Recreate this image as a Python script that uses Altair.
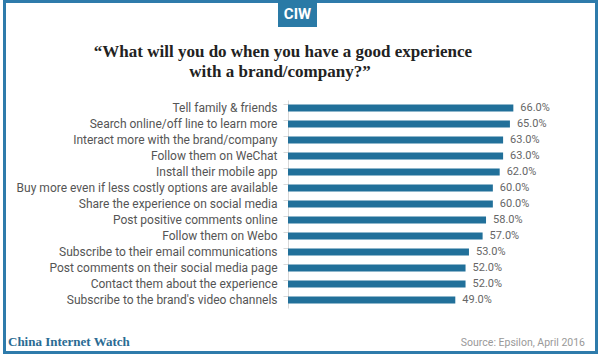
import altair as alt
import pandas as pd

categories = [
    "Tell family & friends",
    "Search online/off line to learn more",
    "Interact more with the brand/company",
    "Follow them on WeChat",
    "Install their mobile app",
    "Buy more even if less costly options are available",
    "Share the experience on social media",
    "Post positive comments online",
    "Follow them on Webo",
    "Subscribe to their email communications",
    "Post comments on their social media page",
    "Contact them about the experience",
    "Subscribe to the brand's video channels",
]
values = [66.0, 65.0, 63.0, 63.0, 62.0, 60.0, 60.0, 58.0, 57.0, 53.0, 52.0, 52.0, 49.0]
title_lines = ["\u201cWhat will you do when you have a good experience",
               "with a brand/company?\u201d"]
brand = "China Internet Watch"
source = "Source: Epsilon, April 2016"
logo = "CIW"

df = pd.DataFrame({"cat": categories, "val": values})
df["label"] = [f"{v:.1f}%" for v in values]

BLUE = "#21709a"
FRAME = "#2e7bab"
LABEL_FONT = "Roboto"

W, H = 239, 208

y_enc = alt.Y("cat:N", sort=categories, title=None,
              scale=alt.Scale(paddingInner=0.55, paddingOuter=0.275),
              axis=alt.Axis(labelFont=LABEL_FONT, labelFontSize=12, labelColor="#555555",
                            labelPadding=6, tickColor="#d9d9d9", tickSize=5,
                            domainColor="#d9d9d9", bandPosition=0, labelLimit=300))
x_enc = alt.X("val:Q", scale=alt.Scale(domain=[0, 70]), axis=None)

base = alt.Chart(df)
bars = base.mark_bar(color=BLUE, size=7).encode(x=x_enc, y=y_enc)
labels = base.mark_text(align="left", dx=7, font=LABEL_FONT, fontSize=11,
                        color="#666666").encode(x=x_enc, y=alt.Y("cat:N", sort=categories), text="label:N")

one = alt.Data(values=[{}])
frame = alt.Chart(one).mark_rect(filled=False, stroke=FRAME, strokeWidth=3).encode(
    x=alt.value(-283.5), x2=alt.value(308.5), y=alt.value(-98.5), y2=alt.value(252.5))
logo_box = alt.Chart(one).mark_rect(color="#2a7aa6").encode(
    x=alt.value(-10), x2=alt.value(29), y=alt.value(-100), y2=alt.value(-73))
logo_text = alt.Chart(one).mark_text(font="Roboto", fontWeight="bold", fontSize=15,
                                     color="white", align="center", baseline="middle").encode(
    x=alt.value(9.5), y=alt.value(-86), text=alt.value(logo))
t1 = alt.Chart(one).mark_text(font="Liberation Serif", fontWeight="bold", fontSize=17,
                              color="#222222", align="center", baseline="alphabetic").encode(
    x=alt.value(-5), y=alt.value(-43), text=alt.value(title_lines[0]))
t2 = alt.Chart(one).mark_text(font="Liberation Serif", fontWeight="bold", fontSize=17,
                              color="#222222", align="center", baseline="alphabetic").encode(
    x=alt.value(-8), y=alt.value(-23), text=alt.value(title_lines[1]))
foot1 = alt.Chart(one).mark_text(font="Liberation Serif", fontWeight="bold", fontSize=13,
                                 color="#2a6b93", align="left", baseline="alphabetic").encode(
    x=alt.value(-280), y=alt.value(246), text=alt.value(brand))
foot2 = alt.Chart(one).mark_text(font=LABEL_FONT, fontSize=10.5,
                                 color="#999999", align="right", baseline="alphabetic").encode(
    x=alt.value(297), y=alt.value(246), text=alt.value(source))

chart = alt.layer(bars, labels, frame, logo_box, logo_text, t1, t2, foot1, foot2).properties(
    width=W, height=H, autosize=alt.AutoSizeParams(type="none"),
    padding={"left": 288, "top": 100, "right": 600 - 288 - W, "bottom": 354 - 100 - H},
    background="white",
).configure_view(stroke=None)

chart.save("out.html", embed_options={"renderer": "svg", "actions": False})
